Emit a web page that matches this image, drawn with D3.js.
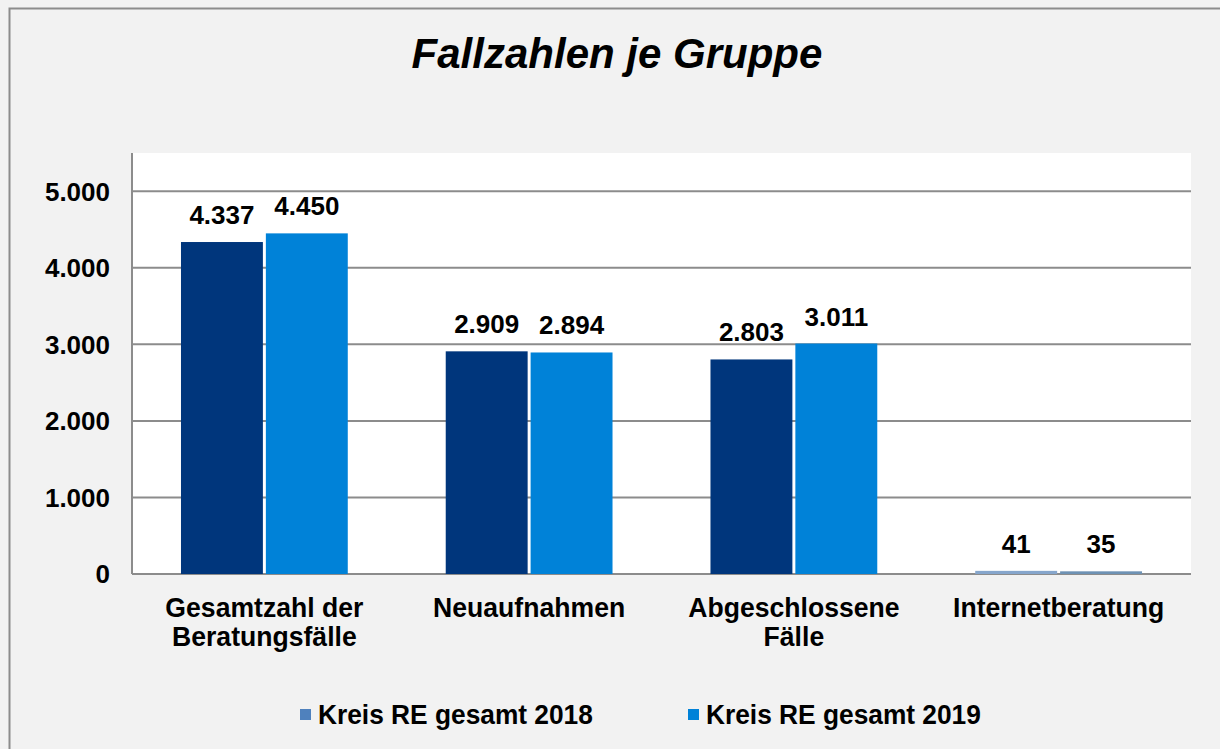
<!DOCTYPE html>
<html>
<head>
<meta charset="utf-8">
<script src="https://cdn.jsdelivr.net/npm/d3@7"></script>
<style>
  body { margin: 0; background: #f2f2f2; }
  text { font-family: "Liberation Sans", Arial, sans-serif; font-weight: bold; fill: #000; }
</style>
</head>
<body>
<svg id="chart" width="1220" height="749"></svg>
<script>
// data
var categories = [["Gesamtzahl der", "Beratungsfälle"], ["Neuaufnahmen"], ["Abgeschlossene", "Fälle"], ["Internetberatung"]];
var series = ["Kreis RE gesamt 2018", "Kreis RE gesamt 2019"];
var values2018 = [4337, 2909, 2803, 41];
var values2019 = [4450, 2894, 3011, 35];
var yTicks = [0, 1000, 2000, 3000, 4000, 5000];

var colors = ["#00367c", "#0082d8"];
var legendColors = ["#4f81bd", "#0082d8"];
// last group is drawn in muted tones in the original
var lastColors = ["#86a6cc", "#6e92b4"];

var svg = d3.select("#chart");
var fmt = d3.formatLocale({ decimal: ",", thousands: ".", grouping: [3] }).format(",d");

// outer frame
svg.append("rect").attr("x", 9.5).attr("y", 8.5).attr("width", 1260).attr("height", 800)
  .attr("fill", "#f2f2f2").attr("stroke", "#8c8c8c").attr("stroke-width", 2);

var plotL = 132, plotR = 1191, plotT = 153, plotB = 574;

svg.append("rect").attr("x", plotL).attr("y", plotT).attr("width", plotR - plotL).attr("height", plotB - plotT)
  .attr("fill", "#fff");

var x0 = d3.scaleBand().domain(d3.range(categories.length)).range([plotL, plotR]).paddingInner(0.37).paddingOuter(0.185);
var x1 = d3.scaleBand().domain([0, 1]).range([0, x0.bandwidth()]).paddingInner(0.035);
var y = d3.scaleLinear().domain([0, 5500]).range([plotB, plotT]);

// gridlines
svg.append("g").selectAll("line").data(yTicks).enter().append("line")
  .attr("x1", plotL).attr("x2", plotR)
  .attr("y1", function(d) { return y(d); }).attr("y2", function(d) { return y(d); })
  .attr("stroke", "#8c8c8c").attr("stroke-width", 2);

// y axis line
svg.append("line").attr("x1", plotL).attr("x2", plotL).attr("y1", plotT).attr("y2", plotB)
  .attr("stroke", "#8c8c8c").attr("stroke-width", 2);

// y tick labels
svg.append("g").selectAll("text").data(yTicks).enter().append("text")
  .attr("x", 110).attr("y", function(d) { return y(d); }).attr("dy", "0.36em")
  .attr("text-anchor", "end").attr("font-size", 26)
  .text(function(d) { return fmt(d); });

var data = [values2018, values2019];

// bars
var groups = svg.append("g").selectAll("g").data(categories).enter().append("g")
  .attr("transform", function(d, i) { return "translate(" + x0(i) + ",0)"; });

groups.selectAll("rect").data(function(d, i) {
  return data.map(function(v, s) { return { s: s, v: v[i], last: i === categories.length - 1 }; });
}).enter().append("rect")
  .attr("x", function(d) { return x1(d.s); })
  .attr("width", x1.bandwidth())
  .attr("y", function(d) { return y(d.v); })
  .attr("height", function(d) { return plotB - y(d.v); })
  .attr("fill", function(d) { return d.last ? lastColors[d.s] : colors[d.s]; });

// value labels
groups.selectAll("text.val").data(function(d, i) {
  return data.map(function(v, s) { return { s: s, v: v[i] }; });
}).enter().append("text").attr("class", "val")
  .attr("x", function(d) { return x1(d.s) + x1.bandwidth() / 2; })
  .attr("y", function(d) { return y(d.v) - 18; })
  .attr("text-anchor", "middle").attr("font-size", 26)
  .text(function(d) { return fmt(d.v); });

// category labels (slightly narrow, like the original)
groups.append("g")
  .attr("transform", "translate(" + x0.bandwidth() / 2 + ",617) scale(0.95,1)")
  .append("text")
  .attr("text-anchor", "middle").attr("font-size", 28)
  .selectAll("tspan").data(function(d) { return d; }).enter().append("tspan")
  .attr("x", 0)
  .attr("dy", function(d, i) { return i === 0 ? 0 : 29; })
  .text(function(d) { return d; });

// title
svg.append("text").attr("x", 617).attr("y", 68).attr("text-anchor", "middle")
  .attr("font-size", 42).attr("font-style", "italic").text("Fallzahlen je Gruppe");

// legend
var legendX = [300, 688];
var lg = svg.append("g").selectAll("g").data(series).enter().append("g")
  .attr("transform", function(d, i) { return "translate(" + legendX[i] + ",709)"; });
lg.append("rect").attr("width", 11).attr("height", 11)
  .attr("fill", function(d, i) { return legendColors[i]; });
lg.append("g").attr("transform", "translate(18,15) scale(0.94,1)")
  .append("text").attr("font-size", 28)
  .text(function(d) { return d; });
</script>
</body>
</html>
